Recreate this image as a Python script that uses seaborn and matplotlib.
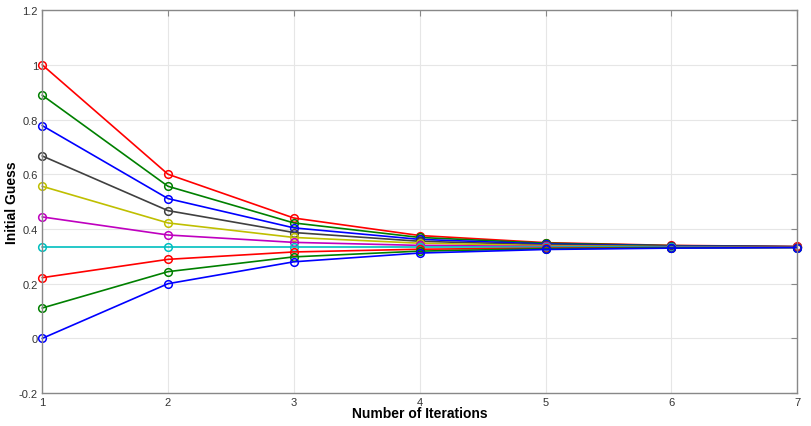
import matplotlib
matplotlib.use("Agg")
import matplotlib.pyplot as plt
from matplotlib.ticker import FormatStrFormatter
import pandas as pd
import seaborn as sns

iterations = [1, 2, 3, 4, 5, 6, 7]
# one list per starting guess
s1 = [1.000, 0.600, 0.440, 0.376, 0.350, 0.340, 0.336]
s2 = [0.889, 0.556, 0.422, 0.369, 0.348, 0.339, 0.335]
s3 = [0.778, 0.511, 0.404, 0.362, 0.345, 0.338, 0.335]
s4 = [0.667, 0.467, 0.387, 0.355, 0.342, 0.337, 0.335]
s5 = [0.556, 0.422, 0.369, 0.348, 0.339, 0.335, 0.334]
s6 = [0.444, 0.378, 0.351, 0.340, 0.336, 0.334, 0.334]
s7 = [0.333, 0.333, 0.333, 0.333, 0.333, 0.333, 0.333]
s8 = [0.222, 0.289, 0.316, 0.326, 0.330, 0.332, 0.333]
s9 = [0.111, 0.244, 0.298, 0.319, 0.328, 0.331, 0.332]
s10 = [0.000, 0.200, 0.280, 0.312, 0.325, 0.330, 0.332]
series = [s1, s2, s3, s4, s5, s6, s7, s8, s9, s10]
colors = ["#ff0000", "#008000", "#0000ff", "#404040", "#bfbf00",
          "#bf00bf", "#00bfbf", "#ff0000", "#008000", "#0000ff"]

rows = []
for i, s in enumerate(series):
    for x, y in zip(iterations, s):
        rows.append({"iter": x, "value": y, "run": i})
df = pd.DataFrame(rows)

sns.set_style("white")
plt.rcParams["font.family"] = ["Liberation Sans", "DejaVu Sans"]

fig = plt.figure(figsize=(8.11, 4.27), dpi=100)
ax = fig.add_axes([0.052, 0.077, 0.931, 0.897])

sns.lineplot(data=df, x="iter", y="value", hue="run", palette=colors,
             marker="o", markersize=5.5, markerfacecolor="none",
             markeredgewidth=1.1, linewidth=1.2, legend=False, ax=ax)
# seaborn marker edges follow line colour; let edge markers show fully
for line, c in zip(ax.lines, colors):
    line.set_markeredgecolor(c)
    line.set_markerfacecolor("none")
    line.set_clip_on(False)

ax.set_xlim(1, 7)
ax.set_ylim(-0.2, 1.2)
ax.set_xticks(iterations)
ax.set_yticks([-0.2, 0, 0.2, 0.4, 0.6, 0.8, 1.0, 1.2])
ax.yaxis.set_major_formatter(FormatStrFormatter("%g"))
ax.grid(True, color="#e6e6e6", linewidth=0.8)
for sp in ax.spines.values():
    sp.set_color("#888888")
    sp.set_linewidth(1.0)
ax.tick_params(direction="in", top=True, right=True, length=4,
               colors="#888888", labelcolor="#333333", labelsize=8, pad=3)
ax.set_xlabel("Number of Iterations", fontsize=10, fontweight="bold",
              labelpad=-1, color="black")
ax.set_ylabel("Initial Guess", fontsize=10, fontweight="bold", color="black")
ax.yaxis.set_label_coords(-0.031, 0.5)

fig.savefig("out.png", dpi=100)
